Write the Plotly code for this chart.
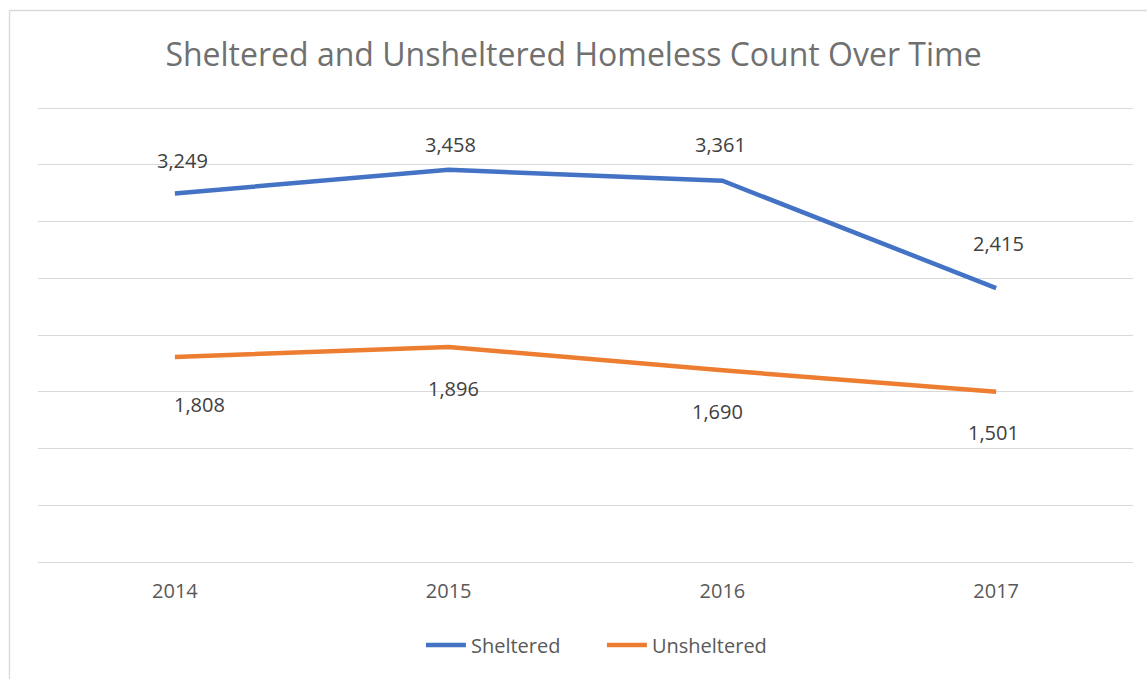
import plotly.graph_objects as go

years = ["2014", "2015", "2016", "2017"]
sheltered = [3249, 3458, 3361, 2415]
unsheltered = [1808, 1896, 1690, 1501]

# label offsets (pixels) relative to each point
sh_dx = [8, 2, -2, 2]
sh_dy = [33, 25, 36, 45]
un_dx = [25, 5, -5, -3]
un_dy = [-48, -42, -41, -41]

BLUE = "#4472C4"
ORANGE = "#ED7D31"
FONT = "Open Sans"

fig = go.Figure()
fig.add_trace(go.Scatter(x=years, y=sheltered, mode="lines", name="Sheltered",
                         line=dict(color=BLUE, width=4.5)))
fig.add_trace(go.Scatter(x=years, y=unsheltered, mode="lines", name="Unsheltered",
                         line=dict(color=ORANGE, width=4.5)))

ann = []
for i, (v, dx, dy) in enumerate(zip(sheltered, sh_dx, sh_dy)):
    ann.append(dict(x=i, y=v, xref="x", yref="y", text=f"{v:,}", showarrow=False,
                    xshift=dx, yshift=dy,
                    font=dict(family=FONT, size=20, color="#404040")))
for i, (v, dx, dy) in enumerate(zip(unsheltered, un_dx, un_dy)):
    ann.append(dict(x=i, y=v, xref="x", yref="y", text=f"{v:,}", showarrow=False,
                    xshift=dx, yshift=dy,
                    font=dict(family=FONT, size=20, color="#404040")))

fig.update_layout(
    width=1147, height=679,
    margin=dict(l=38, r=14, t=106, b=117),
    paper_bgcolor="white", plot_bgcolor="white",
    title=dict(text="Sheltered and Unsheltered Homeless Count Over Time",
               x=0.5, xanchor="center", y=1 - 55 / 679, yanchor="middle",
               font=dict(family=FONT, size=32, color="#707070")),
    xaxis=dict(type="category", range=[-0.5, 3.5], showgrid=False, zeroline=False,
               showline=False, ticks="", ticklabelstandoff=15,
               tickfont=dict(family=FONT, size=20, color="#595959")),
    yaxis=dict(range=[0, 4020], dtick=500, showgrid=True, gridcolor="#D9D9D9",
               gridwidth=1.3, zeroline=True, zerolinecolor="#D9D9D9",
               zerolinewidth=1.3, showticklabels=False, showline=False),
    showlegend=True,
    legend=dict(orientation="h", x=0.515, xanchor="center", y=-(645 - 562) / 456,
                yanchor="middle", font=dict(family=FONT, size=20, color="#595959"),
                itemwidth=40, entrywidth=126),
    annotations=ann,
    shapes=[dict(type="rect", xref="paper", yref="paper",
                 x0=-28.5 / 1095, x1=1.02, y0=-0.3, y1=(562 - 10.5) / 456,
                 line=dict(color="#D9D9D9", width=1.3), layer="below")],
)

fig.write_html("out.html", config={"displayModeBar": False},
               post_script="document.body.style.margin='0';")
